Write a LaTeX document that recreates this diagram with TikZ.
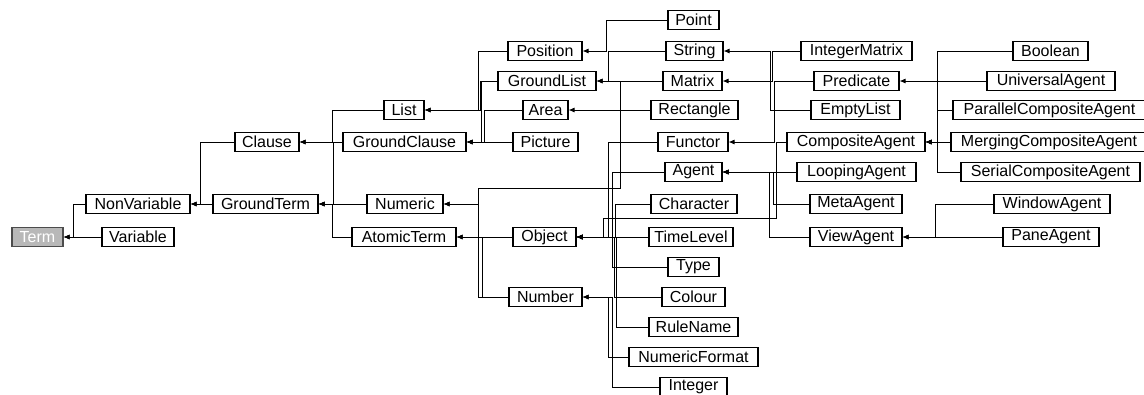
\documentclass[tikz,border=0pt]{standalone}
\usepackage{fontspec}
\setmainfont{Liberation Sans}
\usetikzlibrary{arrows.meta}
\begin{document}
\begin{tikzpicture}[x=1pt,y=-1pt,
  cls/.style={draw=black, line width=1.1pt, fill=white, inner sep=0pt,
    minimum height=19pt, font=\fontsize{16}{18}\selectfont},
  root/.style={cls, fill=black!28, draw=black!70, text=white},
  isa/.style={{Latex[length=6pt,width=5pt]}-, line width=0.9pt}]
\useasboundingbox (0,0) rectangle (1144,394);

% class boxes: position = centre, width = box width
\newcommand{\cls}[6][cls]{\node[#1, minimum width=#5pt] (#2) at (#3,#4) {#6};}
\cls[root]{Term}{37.5}{237}{51}{Term}
\cls{Variable}{138}{237}{72}{Variable}
\cls{NonVariable}{138}{204}{104}{NonVariable}
\cls{GroundTerm}{265.5}{204}{105}{GroundTerm}
\cls{Clause}{267}{142}{64}{Clause}
\cls{List}{404}{110}{40}{List}
\cls{GroundClause}{404.5}{142}{123}{GroundClause}
\cls{Numeric}{405}{204}{76}{Numeric}
\cls{AtomicTerm}{404}{237}{104}{AtomicTerm}
\cls{Position}{545}{51}{74}{Position}
\cls{GroundList}{547}{81}{98}{GroundList}
\cls{Area}{545.5}{110}{45}{Area}
\cls{Picture}{545.5}{142}{65}{Picture}
\cls{Object}{544.5}{237}{63}{Object}
\cls{Number}{545.5}{297}{73}{Number}
\cls{Point}{693.5}{20}{51}{Point}
\cls{String}{694.5}{51}{57}{String}
\cls{Matrix}{692.5}{81}{59}{Matrix}
\cls{Rectangle}{694.5}{110}{87}{Rectangle}
\cls{Functor}{693}{142}{70}{Functor}
\cls{Agent}{693.5}{172}{57}{Agent}
\cls{Character}{694}{204}{86}{Character}
\cls{TimeLevel}{691}{237}{84}{TimeLevel}
\cls{Type}{693.5}{267}{51}{Type}
\cls{Colour}{693.5}{297}{63}{Colour}
\cls{RuleName}{693.5}{327}{89}{RuleName}
\cls{NumericFormat}{693.5}{357}{129}{NumericFormat}
\cls{Integer}{693.5}{387}{67}{Integer}
\cls{IntegerMatrix}{856.5}{51}{111}{IntegerMatrix}
\cls{Predicate}{856.5}{81}{85}{Predicate}
\cls{EmptyList}{855.5}{110}{89}{EmptyList}
\cls{CompositeAgent}{856}{142}{138}{CompositeAgent}
\cls{LoopingAgent}{856.5}{172}{119}{LoopingAgent}
\cls{MetaAgent}{856}{204}{92}{MetaAgent}
\cls{ViewAgent}{856}{237}{92}{ViewAgent}
\cls{Boolean}{1050.5}{51}{75}{Boolean}
\cls{UniversalAgent}{1051}{81}{128}{UniversalAgent}
\cls{ParallelCompositeAgent}{1049.5}{110}{193}{ParallelCompositeAgent}
\cls{MergingCompositeAgent}{1049}{142}{196}{MergingCompositeAgent}
\cls{SerialCompositeAgent}{1050.5}{172}{179}{SerialCompositeAgent}
\cls{WindowAgent}{1052}{204}{116}{WindowAgent}
\cls{PaneAgent}{1051}{237}{96}{PaneAgent}

% generalisation links: arrow tip at the parent, elbow at a vertical bus
\draw[isa] (Term.east) -- (Variable.west);
\draw[isa] (Term.east) -- ++(10,0) |- (NonVariable.west);
\draw[isa] (NonVariable.east) -- (GroundTerm.west);
\draw[isa] (NonVariable.east) -- ++(10,0) |- (Clause.west);
\draw[isa] (Clause.east) -- (GroundClause.west);
\draw[isa] (Clause.east) -- ++(33,0) |- (List.west);
\draw[isa] (GroundTerm.east) -- (Numeric.west);
\draw[isa] (GroundTerm.east) -- ++(15,0) |- (GroundClause.west);
\draw[isa] (GroundTerm.east) -- ++(14,0) |- (AtomicTerm.west);
\draw[isa] (List.east) -- ++(54,0) |- (Position.west);
\draw[isa] (List.east) -- ++(56,0) |- (GroundList.west);
\draw[isa] (GroundClause.east) -- ++(15,0) |- (GroundList.west);
\draw[isa] (GroundClause.east) -- ++(18,0) |- (Area.west);
\draw[isa] (GroundClause.east) -- (Picture.west);
\draw[isa] (Numeric.east) -- ++(35,0) |- (Number.west);
\draw[isa] (Numeric.east) -- ++(35,0) |- ++(142,-16) |- (Matrix.west);
\draw[isa] (AtomicTerm.east) -- (Object.west);
\draw[isa] (AtomicTerm.east) -- ++(26,0) |- (Number.west);
\draw[isa] (Position.east) -- ++(24,0) |- (Point.west);
\draw[isa] (GroundList.east) -- ++(12,0) |- (String.west);
\draw[isa] (GroundList.east) -- (Matrix.west);
\draw[isa] (Area.east) -- (Rectangle.west);
\draw[isa] (Object.east) -- ++(32,0) |- (Functor.west);
\draw[isa] (Object.east) -- ++(36,0) |- (Agent.west);
\draw[isa] (Object.east) -- ++(39,0) |- (Character.west);
\draw[isa] (Object.east) -- (TimeLevel.west);
\draw[isa] (Object.east) -- ++(36,0) |- (Type.west);
\draw[isa] (Object.east) -- ++(38,0) |- (Colour.west);
\draw[isa] (Object.east) -- ++(40,0) |- (RuleName.west);
\draw[isa] (Object.east) -- ++(27,0) |- ++(173,-19) |- (LoopingAgent.west);
\draw[isa] (Number.east) -- ++(26,0) |- (NumericFormat.west);
\draw[isa] (Number.east) -- ++(30,0) |- (Integer.west);
\draw[isa] (Matrix.east) -- ++(50,0) |- (IntegerMatrix.west);
\draw[isa] (String.east) -- ++(47,0) |- (EmptyList.west);
\draw[isa] (Functor.east) -- ++(46,0) |- (Predicate.west);
\draw[isa] (Agent.east) -- (LoopingAgent.west);
\draw[isa] (Agent.east) -- ++(54,0) |- (CompositeAgent.west);
\draw[isa] (Agent.east) -- ++(51,0) |- (MetaAgent.west);
\draw[isa] (Agent.east) -- ++(47,0) |- (ViewAgent.west);
\draw[isa] (Predicate.east) -- ++(38,0) |- (Boolean.west);
\draw[isa] (CompositeAgent.east) -- ++(12,0) |- (UniversalAgent.west);
\draw[isa] (CompositeAgent.east) -- ++(12,0) |- (ParallelCompositeAgent.west);
\draw[isa] (CompositeAgent.east) -- (MergingCompositeAgent.west);
\draw[isa] (CompositeAgent.east) -- ++(12,0) |- (SerialCompositeAgent.west);
\draw[isa] (ViewAgent.east) -- ++(33,0) |- (WindowAgent.west);
\draw[isa] (ViewAgent.east) -- (PaneAgent.west);
\end{tikzpicture}
\end{document}
